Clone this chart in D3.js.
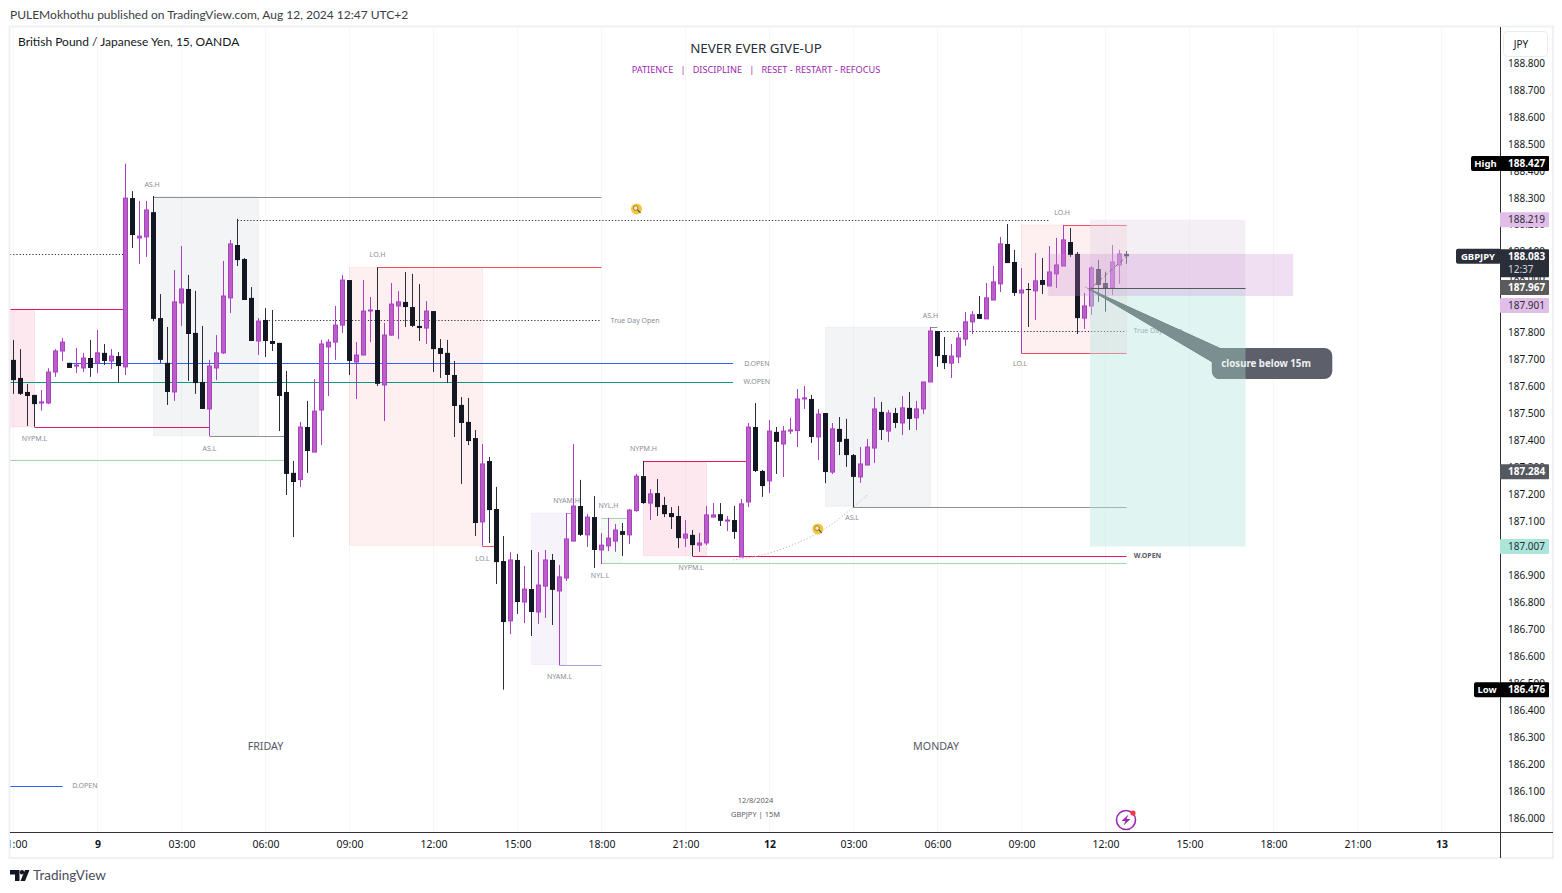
<!DOCTYPE html>
<html>
<head>
<meta charset="utf-8">
<title>GBPJPY 15</title>
<script src="https://cdnjs.cloudflare.com/ajax/libs/d3/7.8.5/d3.min.js"></script>
<style>
    html, body { margin: 0; padding: 0; background: #fff; overflow: hidden; }
    svg { display: block; font-family: "Noto Sans", sans-serif; }
    .note { font-size: 7px; fill: #8a8d97; text-anchor: middle; }
    .tick text { fill: #131722; }
</style>
</head>
<body>
<svg id="chart" width="1562" height="893"></svg>
<script>
// candles, one entry per 15 minute bar
const opens = [
    187.699,187.632,187.580,187.569,187.539,187.539,187.654,187.732,187.688,187.676,
    187.669,187.706,187.688,187.725,187.695,187.713,187.673,188.299,188.151,188.155,
    188.247,187.854,187.688,187.580,187.910,187.962,187.799,187.617,187.517,187.669,
    187.725,187.929,188.125,188.073,187.929,187.769,187.847,187.769,187.762,187.580,
    187.280,187.255,187.450,187.357,187.513,187.747,187.765,187.828,187.995,187.691,
    187.717,187.881,187.884,187.606,187.791,187.899,187.914,187.895,187.825,187.817,
    187.880,187.743,187.725,187.643,187.532,187.469,187.409,187.098,187.324,187.146,
    186.953,186.731,186.957,186.801,186.849,186.764,186.860,186.957,186.842,186.890,
    187.027,187.157,187.050,187.116,186.994,187.009,187.027,187.064,187.050,187.140,
    187.268,187.168,187.205,187.161,187.131,187.120,187.038,187.050,187.012,187.020,
    187.116,187.127,187.102,187.105,186.968,187.172,187.450,187.287,187.250,187.432,
    187.387,187.435,187.437,187.554,187.554,187.413,187.502,187.283,187.443,187.406,
    187.346,187.265,187.309,187.372,187.506,187.435,187.502,187.465,187.521,187.484,
    187.517,187.617,187.806,187.717,187.687,187.710,187.776,187.840,187.869,187.851,
    187.921,187.981,188.129,188.062,187.947,187.962,187.955,187.995,187.973,188.018,
    188.047,188.136,188.092,187.854,187.899,188.036,187.984,187.966,188.051,188.092
];
const closes = [
    187.624,187.573,187.565,187.535,187.543,187.654,187.732,187.765,187.669,187.680,
    187.706,187.669,187.725,187.695,187.713,187.676,188.299,188.162,188.158,188.255,
    187.851,187.699,187.580,187.914,187.962,187.795,187.613,187.517,187.676,187.725,
    187.936,188.129,188.069,187.921,187.769,187.843,187.769,187.758,187.565,187.276,
    187.246,187.450,187.361,187.509,187.758,187.765,187.828,187.995,187.695,187.717,
    187.880,187.884,187.610,187.791,187.906,187.914,187.895,187.825,187.817,187.880,
    187.739,187.721,187.643,187.528,187.465,187.398,187.094,187.313,187.142,186.949,
    186.727,186.957,186.801,186.849,186.764,186.864,186.957,186.846,186.894,187.035,
    187.157,187.050,187.116,186.994,187.012,187.038,187.068,187.050,187.142,187.268,
    187.168,187.202,187.153,187.127,187.116,187.038,187.053,187.012,187.020,187.124,
    187.124,187.102,187.105,187.061,187.165,187.450,187.287,187.231,187.435,187.395,
    187.435,187.439,187.554,187.558,187.413,187.498,187.283,187.443,187.395,187.346,
    187.265,187.313,187.376,187.517,187.439,187.502,187.465,187.521,187.480,187.517,
    187.617,187.806,187.713,187.687,187.713,187.780,187.840,187.866,187.851,187.929,
    187.988,188.129,188.058,187.947,187.958,187.958,187.992,187.977,188.025,188.051,
    188.144,188.088,187.854,187.899,188.040,187.977,187.964,188.062,188.092,188.083
];
const highs = [
    187.773,187.739,187.610,187.569,187.587,187.668,187.739,187.780,187.688,187.743,
    187.725,187.773,187.810,187.758,187.739,187.728,188.427,188.325,188.288,188.288,
    188.307,187.943,187.821,188.032,188.121,188.014,187.955,187.825,187.699,187.791,
    188.066,188.144,188.222,188.077,187.969,187.854,187.891,187.884,187.762,187.658,
    187.324,187.469,187.547,187.628,187.773,187.776,187.899,188.014,187.995,187.765,
    187.995,187.932,188.043,187.836,187.984,187.954,188.025,188.018,187.980,187.917,
    187.880,187.776,187.773,187.695,187.561,187.558,187.439,187.387,187.339,187.228,
    187.046,186.986,186.979,186.935,186.994,186.986,186.994,186.979,186.938,187.131,
    187.387,187.254,187.127,187.194,187.057,187.113,187.090,187.094,187.146,187.276,
    187.324,187.220,187.257,187.191,187.153,187.157,187.105,187.068,187.057,187.157,
    187.168,187.168,187.120,187.157,187.183,187.465,187.539,187.291,187.476,187.450,
    187.454,187.484,187.591,187.602,187.569,187.517,187.502,187.465,187.487,187.480,
    187.350,187.376,187.406,187.561,187.543,187.513,187.521,187.565,187.580,187.547,
    187.617,187.821,187.806,187.784,187.758,187.799,187.877,187.880,187.936,187.984,
    188.047,188.155,188.203,188.107,188.040,187.984,188.095,188.077,188.121,188.151,
    188.199,188.188,188.099,187.947,188.047,188.070,188.026,188.125,188.107,188.103
];
const lows = [
    187.573,187.569,187.454,187.451,187.511,187.535,187.636,187.695,187.669,187.650,
    187.654,187.636,187.650,187.680,187.665,187.616,187.643,188.114,188.055,188.081,
    187.843,187.688,187.532,187.547,187.825,187.621,187.573,187.517,187.417,187.624,
    187.721,187.873,188.047,187.921,187.769,187.717,187.710,187.732,187.435,187.198,
    187.042,187.228,187.280,187.357,187.383,187.565,187.699,187.799,187.643,187.554,
    187.717,187.765,187.602,187.472,187.788,187.776,187.821,187.821,187.769,187.758,
    187.654,187.632,187.613,187.413,187.239,187.383,187.046,187.009,187.020,186.868,
    186.476,186.682,186.757,186.723,186.675,186.720,186.742,186.716,186.567,186.879,
    187.027,187.046,187.005,186.927,186.942,186.990,186.987,186.972,187.016,187.136,
    187.165,187.105,187.120,187.116,187.072,187.001,187.005,186.972,186.987,187.012,
    187.116,187.083,187.064,187.035,186.968,187.153,187.283,187.191,187.205,187.276,
    187.265,187.424,187.376,187.517,187.391,187.328,187.242,187.276,187.346,187.302,
    187.152,187.243,187.309,187.317,187.402,187.395,187.446,187.420,187.439,187.439,
    187.498,187.617,187.673,187.665,187.632,187.687,187.751,187.795,187.851,187.851,
    187.921,187.951,188.058,187.936,187.723,187.821,187.847,187.943,187.973,187.966,
    188.047,188.081,187.795,187.814,187.866,187.914,187.878,187.940,187.981,188.055
];

// axes
const priceTicks = d3.range(0, 29).map(i => 186 + i / 10);
const timeTicks = d3.range(0, 18).map(i => i * 12);
const timeLabels = ['21:00','9','03:00','06:00','09:00','12:00','15:00','18:00','21:00','12','03:00','06:00','09:00','12:00','15:00','18:00','21:00','13'];

// session boxes: [first bar, last bar, top price, bottom price, kind]
const sessionBoxes = [
    [-0.5, 3, 187.887, 187.450, 'nypm'],
    [20, 35, 188.304, 187.418, 'as'],
    [48, 67, 188.042, 187.011, 'lo'],
    [74, 79, 187.131, 186.569, 'nyam'],
    [84, 87, 187.112, 186.945, 'nyl'],
    [90, 99, 187.321, 186.973, 'nypm'],
    [116, 131, 187.820, 187.156, 'as'],
    [144, 159, 188.199, 187.723, 'lo']
];

// levels: [first bar, last bar, price, kind]
const levels = [
    [-0.5, 16, 187.887, 'nypm'],
    [3, 28, 187.449, 'nypm'],
    [8, 102.8, 187.686, 'dopen'],
    [-0.5, 102.8, 187.616, 'wopen'],
    [-0.5, 39, 187.327, 'nyl'],
    [-0.5, 16, 188.091, 'dotted'],
    [32, 148, 188.218, 'dotted'],
    [20, 84, 188.304, 'as'],
    [28, 39, 187.416, 'as'],
    [52, 84, 188.042, 'lo'],
    [36, 84, 187.846, 'dotted'],
    [67, 69, 187.009, 'lo'],
    [79, 80, 187.131, 'nyam'],
    [78, 84, 186.566, 'nyam'],
    [84, 88, 187.112, 'nyl'],
    [84, 159, 186.945, 'nyl'],
    [90, 105, 187.323, 'nypm'],
    [97, 159, 186.971, 'nypm'],
    [131, 132, 187.820, 'as'],
    [132, 159, 187.805, 'dotted'],
    [120, 159, 187.152, 'as'],
    [150, 159, 188.198, 'lo'],
    [144, 159, 187.723, 'lo'],
    [-0.5, 7, 186.119, 'dopen']
];

// small text notes: [text, bar, price]
const notes = [
    ['AS.H', 19.8, 188.351], ['NYPM.L', 3, 187.406], ['AS.L', 28, 187.369],
    ['LO.H', 52, 188.088], ['LO.L', 67, 186.964], ['True Day Open', 88.8, 187.845],
    ['D.OPEN', 106.2, 187.685], ['W.OPEN', 106.2, 187.619], ['NYAM.H', 79, 187.179],
    ['NYAM.L', 78, 186.523], ['NYL.H', 85, 187.157], ['NYL.L', 83.8, 186.901],
    ['NYPM.H', 90, 187.372], ['NYPM.L', 96.8, 186.927], ['AS.H', 131, 187.865],
    ['AS.L', 119.8, 187.113], ['LO.L', 143.8, 187.684], ['LO.H', 149.8, 188.244],
    ['True Day Open', 163.5, 187.806], ['D.OPEN', 10.2, 186.119]
];
const dayNames = [['FRIDAY', 36, 186.267], ['MONDAY', 131.8, 186.267]];
const stamps = [['12/8/2024', 106, 186.067], ['GBPJPY | 15M', 106, 186.015]];
const searchMarks = [[89, 188.259], [114.9, 187.072]];
const arcPoints = [[102.8, 186.957], [108, 186.975], [115.6, 187.057], [120, 187.153], [122, 187.198]];

// position tool and zone
const positionBars = [153.8, 176];
const positionLevels = [188.219, 187.967, 187.007];
const zoneBars = [147.8, 182.8];
const zoneLevels = [188.092, 187.936];
const arrowPoints = [[153.6, 187.958], [159, 188.082]];
const calloutTip = [152.9, 187.972];
const calloutBars = [171.2, 188.4];
const calloutLevels = [187.743, 187.628];
const calloutText = 'closure below 15m';

// labels on the price scale
const lastPrice = 188.083;
const lastCountdown = '12:37';
const highPrice = 188.427;
const lowPrice = 186.476;
const purpleTags = [188.219, 187.901];
const entryTag = 187.967;
const crossTag = 187.284;
const targetTag = 187.007;

const plotLeft = 10, plotRight = 1500, plotTop = 27, plotBottom = 832;

const x = d3.scaleLinear().domain([0, 1]).range([13.5, 20.5]);
const y = d3.scaleLinear().domain([186, 188.8]).range([818, 63]);

const styles = {
    nypm: { box: 'rgba(233,30,99,.1)', edge: 'rgba(233,30,99,.08)', line: '#e0195f' },
    as: { box: 'rgba(120,123,134,.085)', edge: 'rgba(120,123,134,.07)', line: '#8d8f99' },
    lo: { box: 'rgba(242,54,69,.08)', edge: 'rgba(242,54,69,.07)', line: '#f0505e' },
    nyam: { box: 'rgba(126,87,194,.07)', edge: 'rgba(126,87,194,.05)', line: '#b39ddb' },
    nyl: { box: 'rgba(76,175,80,.06)', edge: 'rgba(76,175,80,.04)', line: '#a5d6a7' },
    dopen: { line: '#2962ff' },
    wopen: { line: '#089981' },
    dotted: { line: '#2a2e39' }
};
const upFill = '#bb5fc8', upEdge = '#ab3fc4', downFill = '#131722';
const midDy = '0.35em';

const svg = d3.select('#chart');
svg.append('rect').attr('width', 1562).attr('height', 893).attr('fill', '#fff');

const defs = svg.append('defs');
defs.append('clipPath').attr('id', 'plot').append('rect')
    .attr('x', plotLeft).attr('y', plotTop).attr('width', plotRight - plotLeft).attr('height', plotBottom - plotTop);
defs.append('clipPath').attr('id', 'timeClip').append('rect')
    .attr('x', plotLeft).attr('y', plotBottom).attr('width', plotRight - plotLeft).attr('height', 26);
defs.append('clipPath').attr('id', 'tealClip').append('rect')
    .attr('x', x(positionBars[0])).attr('y', plotTop)
    .attr('width', x(positionBars[1]) - x(positionBars[0])).attr('height', plotBottom - plotTop);

const plot = svg.append('g').attr('clip-path', 'url(#plot)');

// faint vertical grid
plot.append('g').selectAll('line').data(timeTicks).join('line')
    .attr('x1', d => x(d)).attr('x2', d => x(d))
    .attr('y1', plotTop).attr('y2', plotBottom)
    .attr('stroke', '#f7f7f9');

plot.append('g').selectAll('rect').data(sessionBoxes).join('rect')
    .attr('x', d => x(d[0]))
    .attr('y', d => y(d[2]))
    .attr('width', d => x(d[1]) - x(d[0]))
    .attr('height', d => y(d[3]) - y(d[2]))
    .attr('fill', d => styles[d[4]].box)
    .attr('stroke', d => styles[d[4]].edge);

plot.append('g').selectAll('line').data(levels).join('line')
    .attr('x1', d => x(d[0])).attr('x2', d => x(d[1]))
    .attr('y1', d => Math.round(y(d[2])) + 0.5).attr('y2', d => Math.round(y(d[2])) + 0.5)
    .attr('stroke', d => styles[d[3]].line)
    .attr('stroke-dasharray', d => d[3] === 'dotted' ? '1.2 2' : null);

// notes sit under the overlays, the right True Day Open is washed out by the target box
plot.append('g').selectAll('text').data(notes).join('text')
    .attr('class', 'note')
    .attr('x', d => x(d[1])).attr('y', d => y(d[2]))
    .attr('dy', midDy)
    .text(d => d[0]);

plot.append('text')
    .attr('x', x(162)).attr('y', y(186.975))
    .attr('text-anchor', 'middle').attr('dy', midDy)
    .attr('font-size', 7).attr('font-weight', 700).attr('fill', '#5a5d68')
    .text('W.OPEN');

plot.append('path')
    .datum(arcPoints)
    .attr('d', d3.line().x(d => x(d[0])).y(d => y(d[1])).curve(d3.curveBasis))
    .attr('fill', 'none')
    .attr('stroke', '#b5b7bd')
    .attr('stroke-width', 1)
    .attr('stroke-dasharray', '1.2 2');

// candles
const candles = opens.map((o, i) => ({ i, o, c: closes[i], h: highs[i], l: lows[i] }));
const candle = plot.append('g').selectAll('g').data(candles).join('g');

candle.append('rect')
    .attr('x', d => x(d.i) - 0.5)
    .attr('width', 1)
    .attr('y', d => y(d.h))
    .attr('height', d => y(d.l) - y(d.h))
    .attr('fill', d => d.c >= d.o ? upEdge : '#2a2e39');

candle.append('rect')
    .attr('x', d => x(d.i) - (d.c >= d.o ? 2 : 2.5))
    .attr('width', d => d.c >= d.o ? 4 : 5)
    .attr('y', d => y(Math.max(d.o, d.c)))
    .attr('height', d => Math.max(1, y(Math.min(d.o, d.c)) - y(Math.max(d.o, d.c))))
    .attr('fill', d => d.c >= d.o ? upFill : downFill)
    .attr('stroke', d => d.c >= d.o ? upEdge : 'none');

// position tool, strong enough to mute the candles under it
const overlays = plot.append('g');
overlays.append('rect')
    .attr('x', x(positionBars[0])).attr('y', y(positionLevels[0]))
    .attr('width', x(positionBars[1]) - x(positionBars[0]))
    .attr('height', y(positionLevels[1]) - y(positionLevels[0]))
    .attr('fill', 'rgba(226,211,229,.39)');
overlays.append('rect')
    .attr('x', x(positionBars[0])).attr('y', y(positionLevels[1]))
    .attr('width', x(positionBars[1]) - x(positionBars[0]))
    .attr('height', y(positionLevels[2]) - y(positionLevels[1]))
    .attr('fill', 'rgba(184,230,223,.44)');
overlays.append('rect')
    .attr('x', x(zoneBars[0])).attr('y', y(zoneLevels[0]))
    .attr('width', x(zoneBars[1]) - x(zoneBars[0]))
    .attr('height', y(zoneLevels[1]) - y(zoneLevels[0]))
    .attr('fill', 'rgba(200,137,211,.27)');
overlays.append('line')
    .attr('x1', x(positionBars[0])).attr('x2', x(positionBars[1]))
    .attr('y1', Math.round(y(positionLevels[1])) + 0.5).attr('y2', Math.round(y(positionLevels[1])) + 0.5)
    .attr('stroke', '#55585f');
overlays.append('line')
    .attr('x1', x(arrowPoints[0][0])).attr('y1', y(arrowPoints[0][1]))
    .attr('x2', x(arrowPoints[1][0])).attr('y2', y(arrowPoints[1][1]))
    .attr('stroke', '#77787f')
    .attr('stroke-dasharray', '4 3');

// callout, the part over the target box is tinted teal
const tailTopX = x(calloutBars[0]) + 8, tailBottomY = y(calloutLevels[0]) + 14;
function drawCallout(g, fill) {
    g.append('path')
        .attr('d', `M${x(calloutTip[0])},${y(calloutTip[1])}L${tailTopX},${y(calloutLevels[0])}L${x(calloutBars[0])},${tailBottomY}Z`)
        .attr('fill', fill);
    g.append('rect')
        .attr('x', x(calloutBars[0])).attr('y', y(calloutLevels[0]))
        .attr('width', x(calloutBars[1]) - x(calloutBars[0]))
        .attr('height', y(calloutLevels[1]) - y(calloutLevels[0]))
        .attr('rx', 8)
        .attr('fill', fill);
}
drawCallout(plot.append('g'), '#5d606b');
drawCallout(plot.append('g').attr('clip-path', 'url(#tealClip)'), '#7a8f8f');

plot.append('text')
    .attr('x', (x(calloutBars[0]) + x(calloutBars[1])) / 2 - 6)
    .attr('y', (y(calloutLevels[0]) + y(calloutLevels[1])) / 2)
    .attr('text-anchor', 'middle').attr('dy', midDy)
    .attr('font-size', 9.7).attr('font-weight', 700).attr('fill', '#eef0f2')
    .text(calloutText);

// search stickers
const search = plot.append('g').selectAll('g').data(searchMarks).join('g')
    .attr('transform', d => `translate(${x(d[0])},${y(d[1])})`);
search.append('circle').attr('r', 5.5).attr('fill', '#f8c53a');
search.append('circle').attr('cx', -0.8).attr('cy', -0.8).attr('r', 2.3).attr('fill', '#fde9a8').attr('stroke', '#6c6a64').attr('stroke-width', 0.8);
search.append('line').attr('x1', 1).attr('y1', 1).attr('x2', 4).attr('y2', 4).attr('stroke', '#55544f').attr('stroke-width', 1.2);

// day names and stamp
plot.append('g').selectAll('text').data(dayNames).join('text')
    .attr('x', d => x(d[1])).attr('y', d => y(d[2]))
    .attr('text-anchor', 'middle').attr('dy', midDy)
    .attr('font-size', 10.7).attr('fill', '#555963')
    .text(d => d[0]);
plot.append('g').selectAll('text').data(stamps).join('text')
    .attr('x', d => x(d[1])).attr('y', d => y(d[2]))
    .attr('text-anchor', 'middle').attr('dy', midDy)
    .attr('font-size', 7.5).attr('fill', '#5d606b')
    .text(d => d[0]);

// bolt icon
const bolt = svg.append('g').attr('transform', 'translate(1126,820)');
bolt.append('circle').attr('r', 9.5).attr('fill', '#fff').attr('stroke', '#9c27b0').attr('stroke-width', 1.6);
bolt.append('path').attr('d', 'M2.5,-5.5L-4.5,1H-0.5L-2.5,5.5L4.5,-1H0.5Z').attr('fill', '#9c27b0');
bolt.append('circle').attr('cx', 7).attr('cy', -7).attr('r', 2.6).attr('fill', '#f23645');

// frame and axes
svg.append('rect')
    .attr('x', plotLeft - 0.5).attr('y', plotTop - 0.5)
    .attr('width', 1553 - plotLeft + 0.5).attr('height', 858 - plotTop + 0.5)
    .attr('fill', 'none').attr('stroke', '#eff1f6').attr('stroke-width', 2);

const yAxis = svg.append('g')
    .attr('transform', `translate(${plotRight},0)`)
    .call(d3.axisRight(y).tickValues(priceTicks).tickFormat(d3.format('.3f')).tickSize(0).tickPadding(8));
yAxis.select('.domain').remove();
yAxis.selectAll('text').attr('font-size', 10).attr('font-family', '"Noto Sans", sans-serif').attr('fill', '#131722');

const xAxis = svg.append('g')
    .attr('clip-path', 'url(#timeClip)')
    .append('g')
    .attr('transform', `translate(0,${plotBottom})`)
    .call(d3.axisBottom(x).tickValues(timeTicks).tickFormat((d, i) => timeLabels[i]).tickSize(0).tickPadding(9));
xAxis.select('.domain').remove();
xAxis.selectAll('text')
    .attr('font-size', 10.5).attr('font-family', '"Noto Sans", sans-serif').attr('fill', '#131722')
    .attr('font-weight', (d, i) => /:/.test(timeLabels[i]) ? 400 : 700);

svg.append('line').attr('x1', plotLeft).attr('x2', 1553).attr('y1', plotBottom + 0.5).attr('y2', plotBottom + 0.5).attr('stroke', '#2f3238');
svg.append('line').attr('x1', plotRight + 0.5).attr('x2', plotRight + 0.5).attr('y1', plotTop).attr('y2', 858).attr('stroke', '#2f3238');

// price scale tags
const tagSize = 10;
function priceTag(value, fill, ink, bold) {
    const cy = y(value);
    const g = svg.append('g');
    g.append('rect').attr('x', plotRight).attr('y', cy - 7.5).attr('width', 49).attr('height', 15).attr('rx', 1).attr('fill', fill);
    g.append('text')
        .attr('x', plotRight + 8).attr('y', cy).attr('dy', midDy)
        .attr('font-size', tagSize).attr('font-weight', bold ? 700 : 400).attr('fill', ink)
        .text(d3.format('.3f')(value));
}
function sideTag(value, text, fill, width) {
    const cy = y(value);
    svg.append('rect').attr('x', plotRight - width).attr('y', cy - 7.5).attr('width', width + 1).attr('height', 15).attr('rx', 2).attr('fill', fill);
    svg.append('text')
        .attr('x', plotRight - width / 2).attr('y', cy).attr('dy', midDy)
        .attr('text-anchor', 'middle')
        .attr('font-size', 9.5).attr('font-weight', 700).attr('fill', '#fff')
        .text(text);
}

purpleTags.forEach(v => priceTag(v, '#e1bee7', '#2a2e39', false));
priceTag(targetTag, '#ace6da', '#2a2e39', false);
priceTag(crossTag, '#55585f', '#fff', true);
priceTag(entryTag, '#5b5b5b', '#fff', true);
priceTag(highPrice, '#000', '#fff', true);
sideTag(highPrice, 'High', '#000', 29);
priceTag(lowPrice, '#000', '#fff', true);
sideTag(lowPrice, 'Low', '#000', 26);

// last price with countdown
const lastY = y(lastPrice);
svg.append('rect').attr('x', plotRight).attr('y', lastY - 7).attr('width', 49).attr('height', 28).attr('rx', 1).attr('fill', '#2a2e39');
svg.append('text').attr('x', plotRight + 8).attr('y', lastY + 0.5).attr('dy', midDy)
    .attr('font-size', tagSize).attr('font-weight', 700).attr('fill', '#fff').text(d3.format('.3f')(lastPrice));
svg.append('text').attr('x', plotRight + 8).attr('y', lastY + 13.5).attr('dy', midDy)
    .attr('font-size', tagSize).attr('fill', '#d5d7dd').text(lastCountdown);
sideTag(lastPrice, 'GBPJPY', '#2a2e39', 44);

// currency button
svg.append('rect').attr('x', 1503.5).attr('y', 31.5).attr('width', 44).attr('height', 25).attr('rx', 4)
    .attr('fill', '#fff').attr('stroke', '#e9ebf2');
svg.append('text').attr('x', 1521).attr('y', 44).attr('text-anchor', 'middle').attr('dy', midDy)
    .attr('font-size', 10).attr('fill', '#131722').text('JPY');

// header text
svg.append('text').attr('x', 10).attr('y', 19).attr('font-family', 'Lato').attr('font-size', 12).attr('fill', '#3a3d45')
    .text('PULEMokhothu published on TradingView.com, Aug 12, 2024 12:47 UTC+2');
svg.append('text').attr('x', 18).attr('y', 46).attr('font-family', 'Lato').attr('font-size', 12).attr('fill', '#131722')
    .text('British Pound / Japanese Yen, 15, OANDA');
svg.append('text').attr('x', 756).attr('y', 53).attr('text-anchor', 'middle').attr('font-size', 13.4).attr('fill', '#2a2e39')
    .text('NEVER EVER GIVE-UP');
svg.append('text').attr('x', 756).attr('y', 73).attr('text-anchor', 'middle').attr('font-size', 9.2).attr('fill', '#9c27b0')
    .attr('xml:space', 'preserve')
    .text('PATIENCE   |   DISCIPLINE   |   RESET - RESTART - REFOCUS');

// TradingView mark
const logo = svg.append('g').attr('fill', '#131722');
logo.append('path').attr('d', 'M10 870h9.5v11h-4.5v-6.5h-5z');
logo.append('circle').attr('cx', 22).attr('cy', 872.3).attr('r', 2.2);
logo.append('path').attr('d', 'M25 870h4.5l-4.5 11h-4.5z');
svg.append('text').attr('x', 33).attr('y', 880).attr('font-family', 'Lato').attr('font-size', 13.5).attr('fill', '#4a4e59').text('TradingView');
</script>
</body>
</html>
